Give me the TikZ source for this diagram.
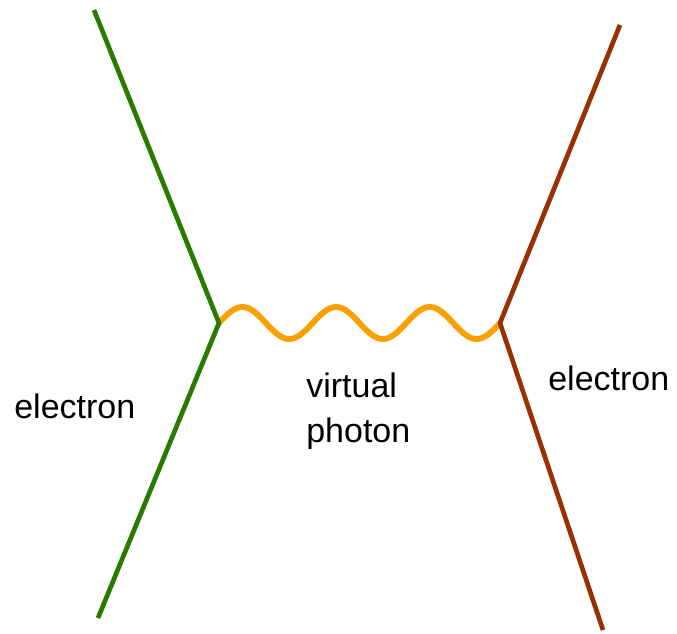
\documentclass[tikz,border=0pt]{standalone}
\usepackage{fontspec}
\setmainfont{Liberation Sans}
\definecolor{elecverde}{RGB}{42,122,0}
\definecolor{elecmarron}{RGB}{153,48,0}
\definecolor{fotonnaranja}{RGB}{250,160,0}
\tikzset{
  etiqueta/.style={font=\fontsize{29}{38}\selectfont,inner sep=0pt,anchor=base west,align=left},
  foton/.style={fotonnaranja,line width=5pt,line cap=round}
}
\begin{document}
\begin{tikzpicture}[x=0.03cm,y=-0.03cm,line width=4pt,line join=round]
  \useasboundingbox (0,0) rectangle (677,633);
  % vertices
  \coordinate (vizq) at (219,323);
  \coordinate (vder) at (500,323);
  \coordinate (eizqa) at (94,10);
  \coordinate (eizqb) at (98,618);
  \coordinate (edera) at (620,25);
  \coordinate (ederb) at (603,630);
  % foton virtual, de vizq a vder
  \draw[foton,shift={(vizq)}] plot[domain=0:281,samples=150,smooth]
    (\x,{-16*sin(3.8434*\x)});
  % electrones
  \draw[elecverde] (eizqa) -- (vizq) -- (eizqb);
  \draw[elecmarron] (edera) -- (vder) -- (ederb);
  % etiquetas
  \node[etiqueta] (lizq) at (12,418) {electron};
  \node[etiqueta] (lfot) at (304,442) {virtual\\photon};
  \node[etiqueta] (lder) at (546,390) {electron};
\end{tikzpicture}
\end{document}
